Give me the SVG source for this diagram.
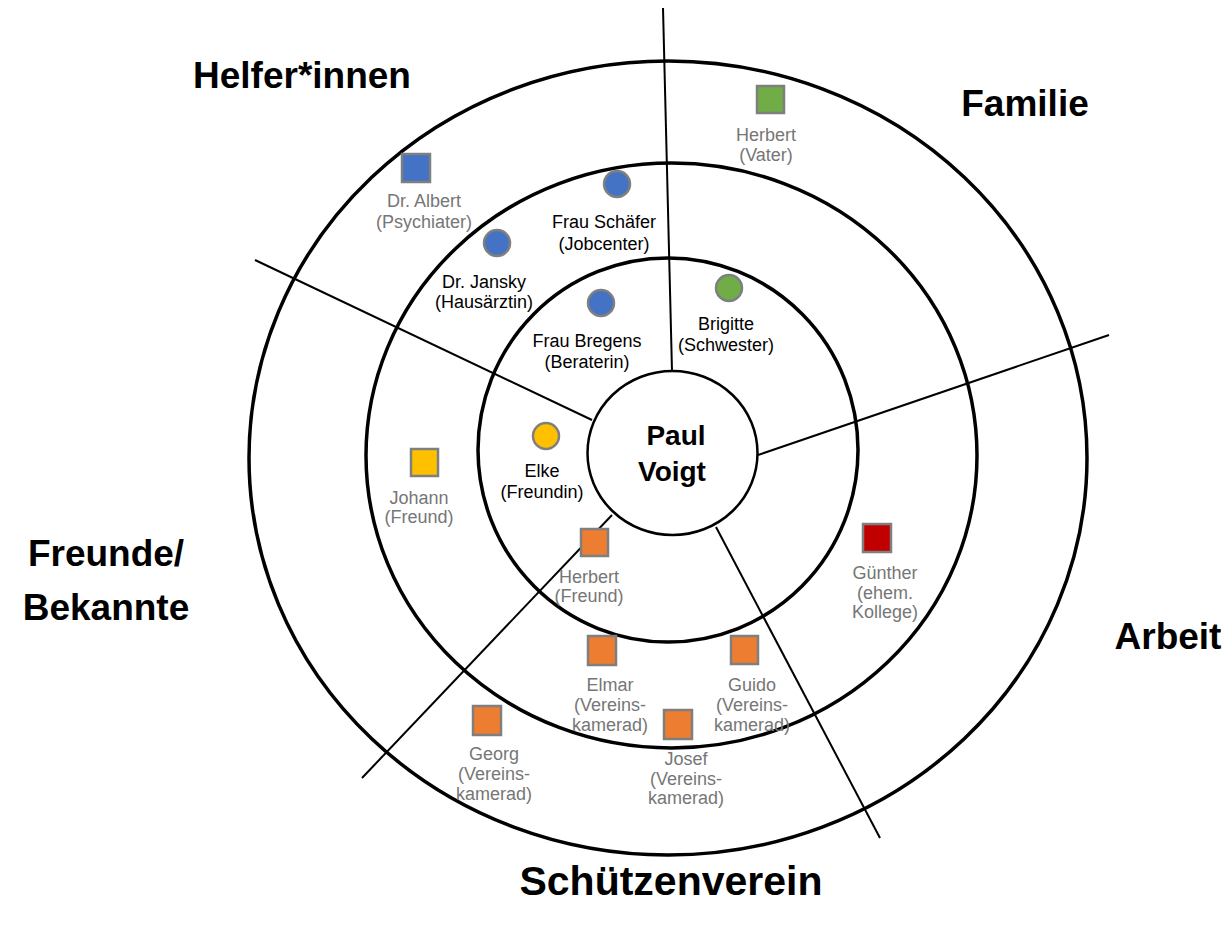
<svg xmlns="http://www.w3.org/2000/svg" width="1228" height="932" viewBox="0 0 1228 932">
<style>
text{font-family:"Liberation Sans",Arial,sans-serif;text-anchor:middle}
.ring{fill:none;stroke:#000;stroke-width:3.5}
.core{fill:#fff;stroke:#000;stroke-width:2.5}
.spoke{stroke:#000;stroke-width:2;fill:none}
.lbl{font-size:18px;fill:#000}
.g{fill:#767676}
.sec{font-size:37px;font-weight:bold;fill:#000}
.mk{stroke:#7f7f7f;stroke-width:2.5}
.blue{fill:#4472c4}.green{fill:#70ad47}.yellow{fill:#ffc000}.orange{fill:#ed7d31}.red{fill:#c00000}
</style>
<rect width="1228" height="932" fill="#fff"/>
<g id="rings">
<ellipse class="ring" cx="668" cy="458" rx="419" ry="397"/>
<ellipse class="ring" cx="671.5" cy="455.5" rx="305.5" ry="292.5"/>
<ellipse class="ring" cx="668" cy="450" rx="190" ry="192"/>
</g>
<g id="connectors">
<line class="spoke" x1="663" y1="8" x2="672" y2="371"/>
<line class="spoke" x1="255" y1="260" x2="592" y2="420"/>
<line class="spoke" x1="758" y1="455" x2="1109" y2="335"/>
<line class="spoke" x1="612" y1="515" x2="362" y2="778"/>
<line class="spoke" x1="716" y1="527" x2="880" y2="838"/>
</g>
<g id="paul-voigt">
<ellipse class="core" cx="672.5" cy="453" rx="85" ry="82"/>
<text x="676" y="445" font-size="28" font-weight="bold">Paul</text>
<text x="672" y="481" font-size="28" font-weight="bold">Voigt</text>
</g>
<g id="sector-labels">
<text class="sec" x="302" y="88">Helfer*innen</text>
<text class="sec" x="1025" y="116">Familie</text>
<text class="sec" x="106" y="566">Freunde/</text>
<text class="sec" x="106" y="620">Bekannte</text>
<text class="sec" x="1168" y="649">Arbeit</text>
<text class="sec" x="671" y="895" style="font-size:41px">Schützenverein</text>
</g>
<g id="dr-albert">
<rect class="mk blue" x="402" y="154" width="28" height="28"/>
<text class="lbl g" x="424" y="207">Dr. Albert</text>
<text class="lbl g" x="424" y="228">(Psychiater)</text>
</g>
<g id="frau-schaefer">
<circle class="mk blue" cx="617" cy="184" r="13"/>
<text class="lbl" x="604" y="228">Frau Schäfer</text>
<text class="lbl" x="604" y="250">(Jobcenter)</text>
</g>
<g id="dr-jansky">
<circle class="mk blue" cx="497" cy="243" r="13"/>
<text class="lbl" x="484" y="288">Dr. Jansky</text>
<text class="lbl" x="484" y="308">(Hausärztin)</text>
</g>
<g id="frau-bregens">
<circle class="mk blue" cx="601" cy="303" r="13"/>
<text class="lbl" x="587" y="347">Frau Bregens</text>
<text class="lbl" x="587" y="368">(Beraterin)</text>
</g>
<g id="herbert-vater">
<rect class="mk green" x="757" y="86" width="27" height="27"/>
<text class="lbl g" x="766" y="141">Herbert</text>
<text class="lbl g" x="766" y="161">(Vater)</text>
</g>
<g id="brigitte">
<circle class="mk green" cx="729" cy="288" r="13"/>
<text class="lbl" x="726" y="330">Brigitte</text>
<text class="lbl" x="726" y="351">(Schwester)</text>
</g>
<g id="elke">
<circle class="mk yellow" cx="546" cy="436" r="13"/>
<text class="lbl" x="542" y="477">Elke</text>
<text class="lbl" x="542" y="498">(Freundin)</text>
</g>
<g id="johann">
<rect class="mk yellow" x="411" y="449" width="27" height="27"/>
<text class="lbl g" x="419" y="504">Johann</text>
<text class="lbl g" x="419" y="523">(Freund)</text>
</g>
<g id="herbert-freund">
<rect class="mk orange" x="581" y="529" width="27" height="27"/>
<text class="lbl g" x="589" y="583">Herbert</text>
<text class="lbl g" x="589" y="602">(Freund)</text>
</g>
<g id="guenther">
<rect class="mk red" x="863" y="524" width="28" height="28"/>
<text class="lbl g" x="885" y="579">Günther</text>
<text class="lbl g" x="885" y="599">(ehem.</text>
<text class="lbl g" x="885" y="618">Kollege)</text>
</g>
<g id="elmar">
<rect class="mk orange" x="588" y="636" width="28" height="29"/>
<text class="lbl g" x="610" y="691">Elmar</text>
<text class="lbl g" x="610" y="711">(Vereins-</text>
<text class="lbl g" x="610" y="731">kamerad)</text>
</g>
<g id="guido">
<rect class="mk orange" x="731" y="636" width="27" height="28"/>
<text class="lbl g" x="752" y="691">Guido</text>
<text class="lbl g" x="752" y="711">(Vereins-</text>
<text class="lbl g" x="752" y="731">kamerad)</text>
</g>
<g id="josef">
<rect class="mk orange" x="664" y="710" width="28" height="29"/>
<text class="lbl g" x="686" y="765">Josef</text>
<text class="lbl g" x="686" y="785">(Vereins-</text>
<text class="lbl g" x="686" y="804">kamerad)</text>
</g>
<g id="georg">
<rect class="mk orange" x="473" y="706" width="28" height="29"/>
<text class="lbl g" x="494" y="760">Georg</text>
<text class="lbl g" x="494" y="780">(Vereins-</text>
<text class="lbl g" x="494" y="800">kamerad)</text>
</g>
</svg>
